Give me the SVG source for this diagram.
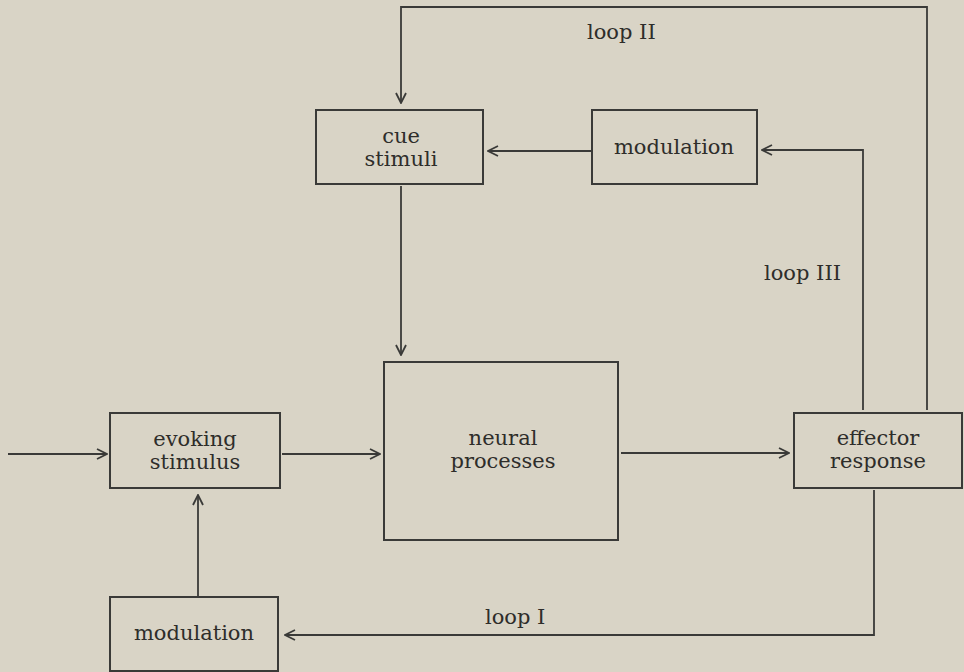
<svg xmlns="http://www.w3.org/2000/svg" width="964" height="672" viewBox="0 0 964 672">
<style>
.box{fill:none;stroke:#3a3a38;stroke-width:2}
.ln{fill:none;stroke:#3a3a38;stroke-width:1.8}
.t{font-family:"DejaVu Serif","Liberation Serif",serif;font-size:21px;fill:#2e2d2a;text-anchor:middle}
.l{font-family:"DejaVu Serif","Liberation Serif",serif;font-size:21px;fill:#2e2d2a}
</style>
<defs>
<marker id="ah" viewBox="0 0 12 12" refX="11" refY="6" markerWidth="12" markerHeight="12" markerUnits="userSpaceOnUse" orient="auto">
<path d="M1,1 L11,6 L1,11" fill="none" stroke="#3a3a38" stroke-width="1.8"/>
</marker>
</defs>
<rect width="964" height="672" fill="#d9d4c6"/>
<g id="connectors">
<path class="ln" d="M8,454 H107" marker-end="url(#ah)"/>
<path class="ln" d="M282,454 H380" marker-end="url(#ah)"/>
<path class="ln" d="M621,453 H789" marker-end="url(#ah)"/>
<path class="ln" d="M401,186 V355" marker-end="url(#ah)"/>
<path class="ln" d="M927,410 V7 H401 V103" marker-end="url(#ah)"/>
<path class="ln" d="M863,410 V150 H762" marker-end="url(#ah)"/>
<path class="ln" d="M591,151 H488" marker-end="url(#ah)"/>
<path class="ln" d="M874,490 V635 H285" marker-end="url(#ah)"/>
<path class="ln" d="M198,596 V495" marker-end="url(#ah)"/>
<text class="l" x="587" y="39">loop II</text>
<text class="l" x="764" y="280">loop III</text>
<text class="l" x="485" y="624">loop I</text>
</g>
<g id="cue">
<rect class="box" x="316" y="110" width="167" height="74"/>
<text class="t" x="401" y="143">cue</text>
<text class="t" x="401" y="166">stimuli</text>
</g>
<g id="modulation-top">
<rect class="box" x="592" y="110" width="165" height="74"/>
<text class="t" x="674" y="154">modulation</text>
</g>
<g id="evoking">
<rect class="box" x="110" y="413" width="170" height="75"/>
<text class="t" x="195" y="446">evoking</text>
<text class="t" x="195" y="469">stimulus</text>
</g>
<g id="neural">
<rect class="box" x="384" y="362" width="234" height="178"/>
<text class="t" x="503" y="445">neural</text>
<text class="t" x="503" y="468">processes</text>
</g>
<g id="effector">
<rect class="box" x="794" y="413" width="168" height="75"/>
<text class="t" x="878" y="445">effector</text>
<text class="t" x="878" y="468">response</text>
</g>
<g id="modulation-bottom">
<rect class="box" x="110" y="597" width="168" height="74"/>
<text class="t" x="194" y="640">modulation</text>
</g>
</svg>
